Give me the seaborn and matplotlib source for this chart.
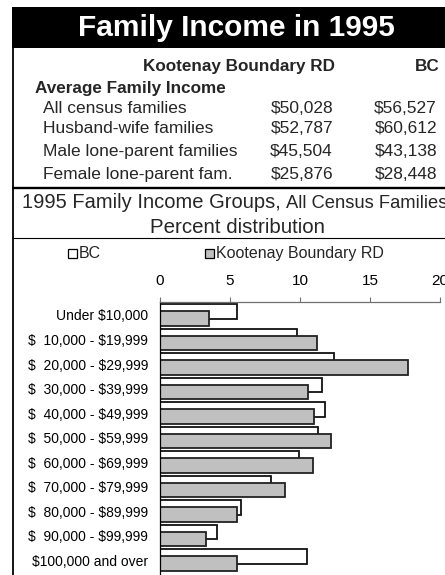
import numpy as np
import pandas as pd
import matplotlib
matplotlib.use("Agg")
import matplotlib.pyplot as plt
from matplotlib.patches import Rectangle
from matplotlib.lines import Line2D
import seaborn as sns

# ---------------- data ----------------
title = "Family Income in 1995"
col_headers = ["Kootenay Boundary RD", "BC"]
table_heading = "Average Family Income"
row_labels = ["All census families", "Husband-wife families",
              "Male lone-parent families", "Female lone-parent fam."]
kb_income = ["$50,028", "$52,787", "$45,504", "$25,876"]
bc_income = ["$56,527", "$60,612", "$43,138", "$28,448"]

chart_title_main = "1995 Family Income Groups,"
chart_title_sub = "All Census Families"
chart_subtitle = "Percent distribution"
series_names = ["BC", "Kootenay Boundary RD"]

categories = ["Under $10,000", "$  10,000 - $19,999", "$  20,000 - $29,999",
              "$  30,000 - $39,999", "$  40,000 - $49,999", "$  50,000 - $59,999",
              "$  60,000 - $69,999", "$  70,000 - $79,999", "$  80,000 - $89,999",
              "$  90,000 - $99,999", "$100,000 and over"]
bc_pct = [5.5, 9.8, 12.4, 11.6, 11.8, 11.3, 9.9, 7.9, 5.8, 4.1, 10.5]
kb_pct = [3.5, 11.2, 17.7, 10.6, 11.0, 12.2, 10.9, 8.9, 5.5, 3.3, 5.5]
x_ticks = [0, 5, 10, 15, 20]

# ---------------- style ----------------
sns.set_theme(style="white")
plt.rcParams["font.family"] = ["Liberation Sans", "DejaVu Sans"]
plt.rcParams["text.parse_math"] = False

W, H = 445, 575
fig = plt.figure(figsize=(W / 100, H / 100), dpi=100)
fig.patch.set_facecolor("white")


def fx(x):
    return x / W


def fy(y):
    return 1 - y / H


def ftext(x, y, s, **kw):
    fig.text(fx(x), fy(y), s, **kw)


def hline(y, x0, x1, lw, color="black"):
    fig.add_artist(Line2D([fx(x0), fx(x1)], [fy(y), fy(y)], lw=lw, color=color,
                          transform=fig.transFigure, solid_capstyle="butt"))


# banner
fig.add_artist(Rectangle((fx(12), fy(48)), fx(445) - fx(12), fy(7) - fy(48),
                         transform=fig.transFigure, facecolor="black",
                         edgecolor="none"))
ftext(236.5, 36, title, color="white", fontsize=21.5, fontweight="bold",
      ha="center", va="baseline")

# left border
fig.add_artist(Line2D([fx(12.5), fx(12.5)], [fy(47), fy(575)], lw=1.3,
                      color="black", transform=fig.transFigure))

# table
ftext(335, 71, col_headers[0], fontsize=12.3, fontweight="bold", ha="right",
      va="baseline")
ftext(440, 71, col_headers[1], fontsize=12.3, fontweight="bold", ha="right",
      va="baseline")
ftext(35, 93, table_heading, fontsize=12.3, fontweight="bold", ha="left",
      va="baseline")
row_base = [113, 133, 156, 179]
for lab, kv, bv, yb in zip(row_labels, kb_income, bc_income, row_base):
    ftext(43, yb, lab, fontsize=12.5, ha="left", va="baseline")
    ftext(333, yb, kv, fontsize=12.5, ha="right", va="baseline")
    ftext(437, yb, bv, fontsize=12.5, ha="right", va="baseline")

hline(188, 12, 445, 1.7)
hline(238, 12, 445, 0.8)

# chart titles
ftext(22, 208, chart_title_main, fontsize=14.5, ha="left", va="baseline")
ftext(286, 208, chart_title_sub, fontsize=13.2, ha="left", va="baseline")
ftext(237, 233, chart_subtitle, fontsize=14.8, ha="center", va="baseline")

# legend (manual)
leg_colors = ["white", "#c0c0c0"]
leg_sq_x = [68, 205]
for name, c, sx in zip(series_names, leg_colors, leg_sq_x):
    fig.add_artist(Rectangle((fx(sx), fy(257.5)), fx(9), fy(249) - fy(257.5),
                             transform=fig.transFigure, facecolor=c,
                             edgecolor="black", lw=0.9))
    ftext(sx + 11, 258, name, fontsize=11.5, ha="left", va="baseline")

# ---------------- bar chart ----------------
ax = fig.add_axes([fx(160), fy(575), fx(440) - fx(160), fy(302) - fy(575)])
ax.set_facecolor("none")
pos = np.arange(len(categories))
off = 0.143
df_bc = pd.DataFrame({"pos": pos - off, "pct": bc_pct})
df_kb = pd.DataFrame({"pos": pos + off, "pct": kb_pct})
sns.barplot(data=df_bc, x="pct", y="pos", orient="h", native_scale=True,
            width=0.58, color="white", saturation=1, edgecolor="#111111",
            linewidth=1.3, errorbar=None, ax=ax)
sns.barplot(data=df_kb, x="pct", y="pos", orient="h", native_scale=True,
            width=0.58, color="#c0c0c0", saturation=1, edgecolor="#222222",
            linewidth=1.3, errorbar=None, ax=ax)

ax.set_xlim(0, 20)
ax.set_ylim(10.61, -0.53)
ax.set_xlabel("")
ax.set_ylabel("")
ax.xaxis.tick_top()
ax.set_xticks(x_ticks)
ax.set_xticklabels([str(t) for t in x_ticks], fontsize=11)
ax.tick_params(axis="x", which="both", top=True, bottom=False, length=3.6,
               width=0.8, color="#707070", pad=6.5, labelcolor="black")
ax.set_yticks(pos)
ax.set_yticklabels(categories, fontsize=10)
ax.tick_params(axis="y", length=0, pad=8.6, labelcolor="black")
for s in ["right", "bottom"]:
    ax.spines[s].set_visible(False)
ax.spines["top"].set_color("#707070")
ax.spines["top"].set_linewidth(0.9)
ax.spines["left"].set_color("black")
ax.spines["left"].set_linewidth(0.9)
ax.grid(False)

fig.savefig("out.png", dpi=100, facecolor="white")
